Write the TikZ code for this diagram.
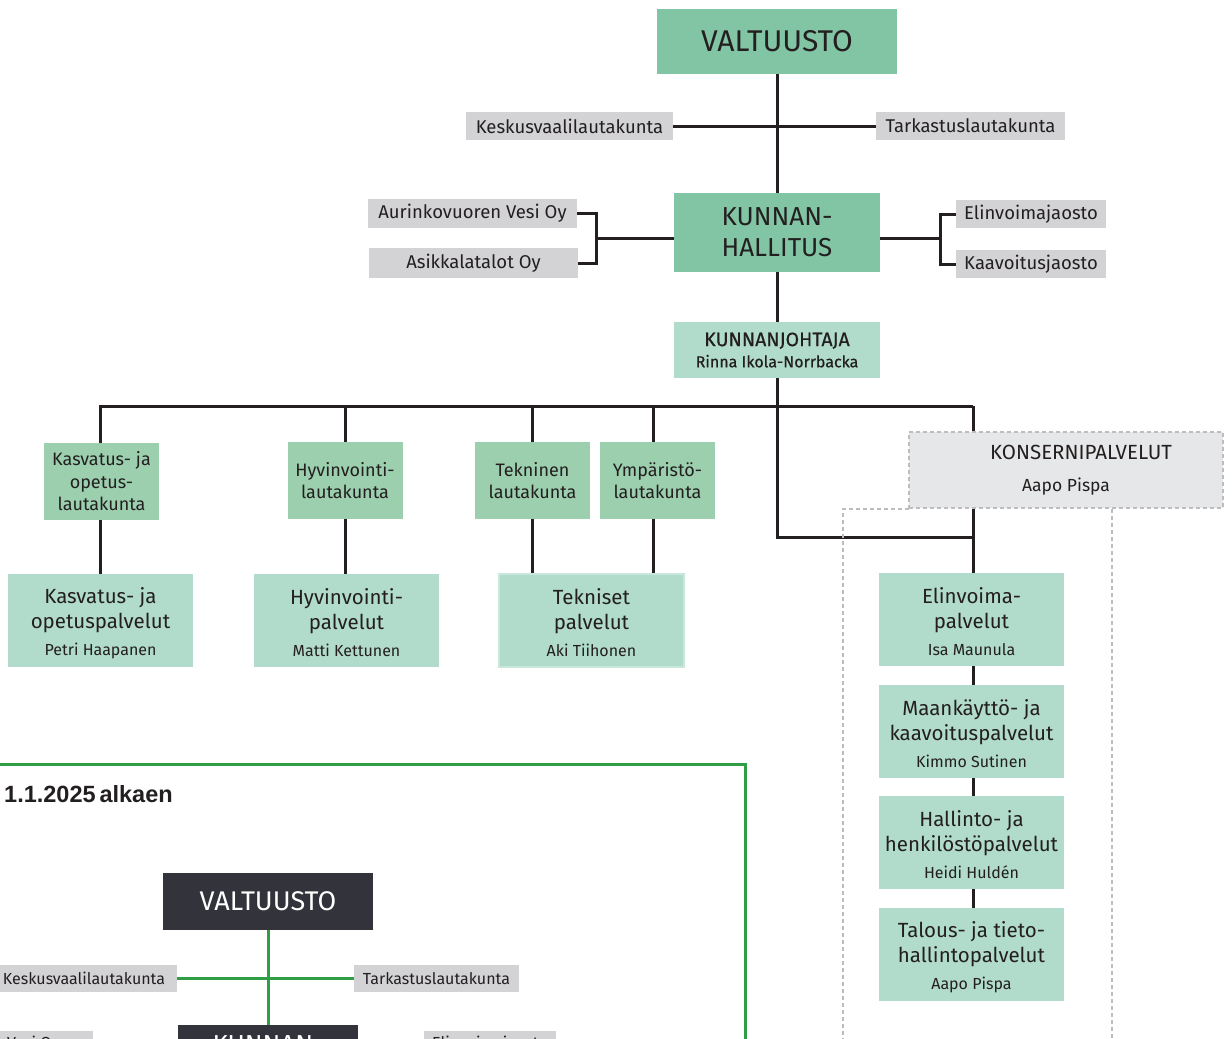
\documentclass[tikz,border=0pt]{standalone}
\usepackage{fontspec}
\setmainfont{Fira Sans}
\newfontfamily\medfont[FakeBold=0.6]{Fira Sans}
\newfontfamily\arialfont{Liberation Sans}
\usetikzlibrary{backgrounds}
\definecolor{gTop}{HTML}{82C5A5}
\definecolor{gMid}{HTML}{9BCFAE}
\definecolor{gLight}{HTML}{B1DBCB}
\definecolor{gLightEdge}{HTML}{C9E7DA}
\definecolor{grayLbl}{HTML}{D3D3D5}
\definecolor{konsFill}{HTML}{E6E7E8}
\definecolor{dashGray}{HTML}{BDBDBF}
\definecolor{lineDark}{HTML}{231F20}
\definecolor{txt}{HTML}{231F20}
\definecolor{darkBox}{HTML}{33333B}
\definecolor{frameGreen}{HTML}{2F9E47}
\newcommand{\fsz}[2]{\fontsize{#1}{#2}\selectfont}
\tikzset{
  box/.style={inner sep=0pt, align=center, text=txt},
  topbox/.style={box, fill=gTop},
  ltkbox/.style={box, fill=gMid, minimum width=115, minimum height=77, font=\fsz{18}{22.5}},
  palbox/.style={box, fill=gLight, minimum width=185, minimum height=93, font=\fsz{20.5}{25}},
  lbl/.style={box, fill=grayLbl, minimum height=28, font=\fsz{18.5}{21}},
  lblsmall/.style={box, fill=grayLbl, minimum height=27, font=\fsz{16}{18}},
  conn/.style={draw=lineDark, line width=3pt},
  gconn/.style={draw=frameGreen, line width=3pt},
  dashbox/.style={draw=dashGray, line width=1.2pt, dash pattern=on 4pt off 3pt},
}
\newcommand{\pname}[1]{\\[2pt]{\fsz{16}{18}#1}}
\newcommand{\tstrut}{\rule{0pt}{21pt}}
\begin{document}
\begin{tikzpicture}[x=1pt,y=-1pt]
\useasboundingbox (0,0) rectangle (1232,1039);
\clip (0,0) rectangle (1232,1039);

% ---------- top part ----------
\node[topbox, minimum width=240, minimum height=65, font=\fsz{30}{34}] (valt) at (777,41.5) {VALTUUSTO};
\node[lbl, minimum width=207] (kesk) at (569.5,126) {Keskusvaalilautakunta};
\node[lbl, minimum width=189] (tark) at (970.5,126) {Tarkastuslautakunta};
\node[topbox, minimum width=206, minimum height=79, font=\fsz{26}{31}] (kh) at (777,232.5) {KUNNAN-\\HALLITUS};
\node[lbl, minimum width=209, minimum height=29] (aur) at (472.5,213.5) {Aurinkovuoren Vesi Oy};
\node[lbl, minimum width=209, minimum height=30] (asi) at (473.5,263) {Asikkalatalot Oy};
\node[lbl, minimum width=150] (elj) at (1031,214) {Elinvoimajaosto};
\node[lbl, minimum width=150] (kaj) at (1031,264) {Kaavoitusjaosto};
\node[box, fill=gLight, minimum width=206, minimum height=56] (kj) at (777,350)
  {\medfont\fsz{19.5}{22}KUNNANJOHTAJA\\[5pt]{\medfont\fsz{16}{18}Rinna Ikola-Norrbacka}};

% lautakunnat
\node[ltkbox] (kasL) at (101.5,481.5) {Kasvatus- ja\\opetus-\\lautakunta};
\node[ltkbox] (hyvL) at (345,480.5) {Hyvinvointi-\\lautakunta};
\node[ltkbox] (tekL) at (532.5,480.5) {Tekninen\\lautakunta};
\node[ltkbox] (ympL) at (657.5,480.5) {Ympäristö-\\lautakunta};

% palvelut
\node[palbox] (kasP) at (100.5,620.5) {\tstrut Kasvatus- ja\\opetuspalvelut\pname{Petri Haapanen}};
\node[palbox] (hyvP) at (346.5,620.5) {\tstrut Hyvinvointi-\\palvelut\pname{Matti Kettunen}};
\node[palbox, draw=gLightEdge, line width=2pt] (tekP) at (591.5,620.5) {\tstrut Tekniset\\palvelut\pname{Aki Tiihonen}};

% konsernipalvelut
\node[box, fill=konsFill, dashbox, minimum width=314, minimum height=76] (kons) at (1066,470) {};
\node[box, font=\fsz{20.5}{24}] (konsT) at (1081,452) {KONSERNIPALVELUT};
\node[box, font=\fsz{17.5}{20}] (konsN) at (1066,487) {Aapo Pispa};
\draw[dashbox] (909,509) -- (843,509) -- (843,1045);
\draw[dashbox] (1112,509) -- (1112,1045);

\node[palbox] (elin) at (971.5,619.5) {\tstrut Elinvoima-\\palvelut\pname{Isa Maunula}};
\node[palbox] (maa) at (971.5,731.5) {\tstrut Maankäyttö- ja\\kaavoituspalvelut\pname{Kimmo Sutinen}};
\node[palbox] (hal) at (971.5,842.5) {\tstrut Hallinto- ja\\henkilöstöpalvelut\pname{Heidi Huldén}};
\node[palbox] (tal) at (971.5,954.5) {\tstrut Talous- ja tieto-\\hallintopalvelut\pname{Aapo Pispa}};

\coordinate (brL) at (596,238);
\coordinate (brR) at (940,238);
\coordinate (barR) at (973,406);
\coordinate (kc) at (973,537);

\begin{scope}[on background layer]
\draw[conn] (valt.south) -- (kh.north);
\draw[conn] (kesk.east) -- (tark.west);
\draw[conn] (aur.east) -| (brL) |- (asi.east);
\draw[conn] (brL) -- (brL -| kh.west);
\draw[conn] (elj.west) -| (brR) |- (kaj.west);
\draw[conn] (brR) -- (brR -| kh.east);
\draw[conn] (kh.south) -- (kj.north);
\draw[conn] (kasL.north -| 100,0) |- (barR);
\draw[conn] (hyvL.north) -- (hyvL.north |- barR);
\draw[conn] (tekL.north) -- (tekL.north |- barR);
\draw[conn] (ympL.north -| 653,0) -- (653,406);
\draw[conn] (barR) -- (elin.north -| barR);
\draw[conn] (kj.south) |- (kc);
\draw[conn] (kasL.south -| 100,0) -- (kasP.north -| 100,0);
\draw[conn] (hyvL.south) -- (hyvL.south |- hyvP.north);
\draw[conn] (tekL.south) -- (tekL.south |- tekP.north);
\draw[conn] (ympL.south -| 653,0) -- (653,574);
\draw[conn] (elin.south -| 973,0) -- (maa.north -| 973,0);
\draw[conn] (maa.south -| 973,0) -- (hal.north -| 973,0);
\draw[conn] (hal.south -| 973,0) -- (tal.north -| 973,0);
\end{scope}

% ---------- bottom-left preview ----------
\draw[draw=frameGreen, line width=3pt] (-10,764) rectangle (745,1100);
\node[anchor=base west, inner sep=0pt, text=txt, font=\arialfont\bfseries\fsz{23.5}{26}] (date) at (4,802) {1.1.2025\,alkaen};
\node[box, fill=darkBox, text=white, minimum width=210, minimum height=57, font=\fsz{27}{30}] (valt2) at (268,901.5) {VALTUUSTO};
\node[lblsmall, minimum width=190] (kesk2) at (82,978.5) {\hspace*{4pt}Keskusvaalilautakunta};
\node[lblsmall, minimum width=165] (tark2) at (436.5,978.5) {Tarkastuslautakunta};
\node[box, fill=darkBox, text=white, minimum width=180, minimum height=70, font=\fsz{26}{30}] (kh2) at (268,1060) {KUNNAN-\\HALLITUS};
\node[lblsmall, minimum width=200] (aur2) at (-7,1044) {\hspace*{-30pt}Aurinkovuoren Vesi Oy};
\node[lblsmall, minimum width=132] (elj2) at (490,1044) {Elinvoimajaosto};
\begin{scope}[on background layer]
\draw[gconn] (valt2.south) -- (kh2.north);
\draw[gconn] (kesk2.east) -- (tark2.west);
\end{scope}
\end{tikzpicture}
\end{document}
